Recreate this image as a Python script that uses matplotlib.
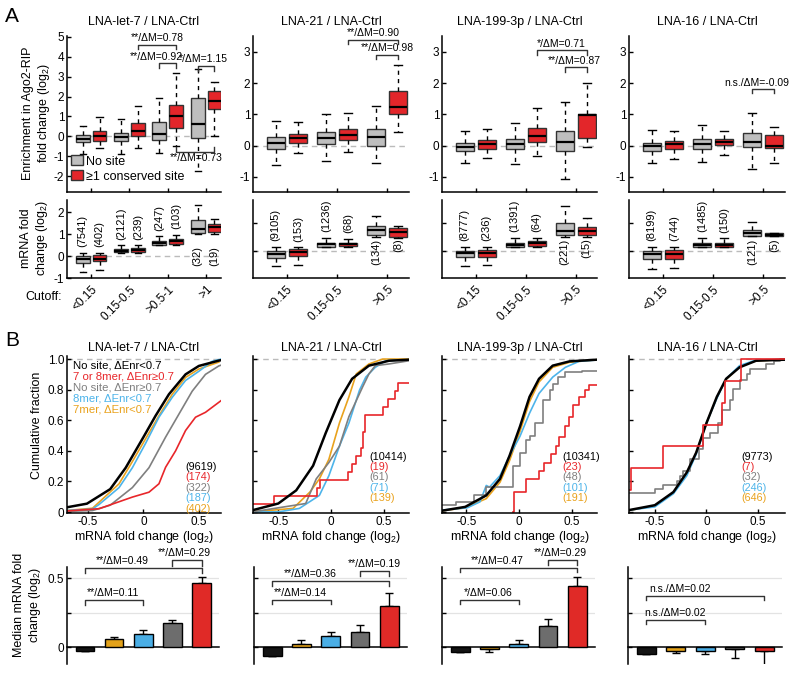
import matplotlib
matplotlib.use('Agg')
import matplotlib.pyplot as plt
from matplotlib.patches import Patch

plt.rcParams['font.family'] = ['Liberation Sans', 'DejaVu Sans']
plt.rcParams['mathtext.fontset'] = 'custom'
plt.rcParams['mathtext.rm'] = 'Liberation Sans'
plt.rcParams['axes.unicode_minus'] = False
plt.rcParams['font.size'] = 8.5

# ------------------------------------------------------------------ data
titles = ["LNA-let-7 / LNA-Ctrl", "LNA-21 / LNA-Ctrl", "LNA-199-3p / LNA-Ctrl", "LNA-16 / LNA-Ctrl"]
cutoffs_let7 = ["<0.15", "0.15-0.5", ">0.5-1", ">1"]
cutoffs_other = ["<0.15", "0.15-0.5", ">0.5"]

# box stats: (low whisker, q1, median, q3, high whisker)
enr_let7_nosite = [(-0.9, -0.3, -0.15, 0.05, 0.5), (-0.9, -0.23, -0.05, 0.15, 0.86),
                   (-0.85, -0.18, 0.12, 0.72, 1.92), (-1.75, -0.07, 0.64, 1.92, 3.38)]
enr_let7_site = [(-0.6, -0.23, 0.02, 0.27, 0.95), (-0.57, 0.04, 0.29, 0.67, 1.53),
                 (-0.47, 0.4, 1.04, 1.58, 3.2), (0.0, 1.36, 1.78, 2.29, 2.72)]
enr_21_nosite = [(-0.62, -0.1, 0.1, 0.27, 0.8), (-0.5, 0.05, 0.25, 0.44, 1.0), (-0.55, 0.0, 0.27, 0.52, 1.27)]
enr_21_site = [(-0.22, 0.1, 0.25, 0.37, 0.76), (-0.21, 0.18, 0.34, 0.55, 1.04), (0.44, 1.02, 1.23, 1.75, 2.57)]
enr_199_nosite = [(-0.56, -0.18, -0.05, 0.08, 0.47), (-0.58, -0.1, 0.05, 0.23, 0.74), (-1.08, -0.17, 0.11, 0.46, 1.39)]
enr_199_site = [(-0.4, -0.1, 0.04, 0.18, 0.52), (-0.33, 0.13, 0.3, 0.57, 1.2), (-0.03, 0.24, 0.98, 1.01, 2.0)]
enr_16_nosite = [(-0.55, -0.16, 0.0, 0.1, 0.5), (-0.51, -0.1, 0.05, 0.21, 0.65), (-0.73, -0.05, 0.11, 0.42, 1.04)]
enr_16_site = [(-0.44, -0.1, 0.04, 0.14, 0.48), (-0.31, 0.01, 0.13, 0.2, 0.48), (-0.56, -0.06, 0.0, 0.34, 0.59)]

mrna_let7_nosite = [(-0.72, -0.3, -0.15, 0.0, 0.15), (0.15, 0.17, 0.25, 0.32, 0.48),
                    (0.5, 0.51, 0.61, 0.69, 0.9), (1.02, 1.07, 1.21, 1.62, 2.3)]
mrna_let7_site = [(-0.63, -0.24, -0.13, 0.03, 0.15), (0.15, 0.18, 0.27, 0.35, 0.48),
                  (0.5, 0.57, 0.68, 0.78, 0.97), (1.02, 1.09, 1.32, 1.47, 1.68)]
mrna_21_nosite = [(-0.55, -0.24, -0.12, 0.0, 0.15), (0.13, 0.14, 0.24, 0.3, 0.48), (0.5, 0.57, 0.75, 0.88, 1.25)]
mrna_21_site = [(-0.49, -0.17, -0.04, 0.07, 0.13), (0.14, 0.18, 0.25, 0.3, 0.43), (0.48, 0.51, 0.69, 0.83, 0.9)]
mrna_199_nosite = [(-0.55, -0.22, -0.06, 0.02, 0.15), (0.14, 0.14, 0.23, 0.3, 0.47), (0.5, 0.57, 0.71, 1.0, 1.6)]
mrna_199_site = [(-0.49, -0.22, -0.06, 0.05, 0.15), (0.14, 0.17, 0.27, 0.36, 0.47), (0.5, 0.57, 0.72, 0.87, 1.17)]
mrna_16_nosite = [(-0.65, -0.27, -0.12, 0.02, 0.15), (0.13, 0.14, 0.23, 0.29, 0.47), (0.52, 0.54, 0.63, 0.75, 1.02)]
mrna_16_site = [(-0.62, -0.27, -0.12, 0.05, 0.15), (0.13, 0.14, 0.22, 0.29, 0.46), (0.52, 0.53, 0.59, 0.63, 0.66)]

n_let7_nosite = [7541, 2121, 247, 32]
n_let7_site = [402, 239, 103, 19]
n_21_nosite = [9105, 1236, 134]
n_21_site = [153, 68, 8]
n_199_nosite = [8777, 1391, 221]
n_199_site = [236, 64, 15]
n_16_nosite = [8199, 1485, 121]
n_16_site = [744, 150, 5]

# significance brackets on enrichment boxes: (x1, x2, y, leg end, label, text x, text y, va)
sig_enr_let7 = [(2.22, 3.22, 4.6, 4.38, "**/ΔM=0.78", 2.72, 4.68, 'bottom'),
                (2.78, 3.22, 3.68, 3.43, "**/ΔM=0.92", 2.70, 3.74, 'bottom'),
                (3.78, 4.22, 3.55, 3.3, "*/ΔM=1.15", 3.92, 3.62, 'bottom'),
                (3.22, 4.22, -0.77, -0.55, "**/ΔM=0.73", 3.75, -0.85, 'top')]
sig_enr_21 = [(2.22, 3.22, 3.39, 3.25, "**/ΔM=0.90", 2.73, 3.44, 'bottom'),
              (2.78, 3.22, 2.91, 2.77, "**/ΔM=0.98", 3.0, 2.96, 'bottom')]
sig_enr_199 = [(2.22, 3.22, 3.05, 2.9, "*/ΔM=0.71", 2.72, 3.1, 'bottom'),
               (2.78, 3.22, 2.51, 2.37, "**/ΔM=0.87", 2.98, 2.56, 'bottom')]
sig_enr_16 = [(2.78, 3.22, 1.81, 1.68, "n.s./ΔM=-0.09", 2.87, 1.86, 'bottom')]

# CDF curves (mRNA fold change, cumulative fraction)
cdf_labels = ["No site, ΔEnr<0.7", "7 or 8mer, ΔEnr≥0.7", "No site, ΔEnr≥0.7", "8mer, ΔEnr<0.7", "7mer, ΔEnr<0.7"]
let7_black_x = [-0.70, -0.51, -0.30, -0.16, 0.0, 0.11, 0.23, 0.38, 0.50, 0.68, 0.72]
let7_black_y = [0.03, 0.055, 0.15, 0.29, 0.49, 0.63, 0.77, 0.90, 0.955, 0.99, 0.995]
let7_red_x = [-0.70, -0.40, -0.10, 0.05, 0.14, 0.20, 0.29, 0.38, 0.47, 0.56, 0.70]
let7_red_y = [0.007, 0.022, 0.098, 0.13, 0.185, 0.293, 0.40, 0.533, 0.62, 0.652, 0.728]
let7_gray_x = [-0.70, -0.46, -0.30, -0.10, 0.05, 0.20, 0.32, 0.44, 0.56, 0.68, 0.72]
let7_gray_y = [0.005, 0.01, 0.045, 0.16, 0.29, 0.49, 0.64, 0.79, 0.90, 0.955, 0.965]
let7_blue_x = [-0.70, -0.46, -0.40, -0.22, -0.10, 0.02, 0.14, 0.26, 0.38, 0.50, 0.62, 0.70]
let7_blue_y = [0.01, 0.02, 0.05, 0.16, 0.29, 0.45, 0.62, 0.75, 0.86, 0.92, 0.985, 1.0]
let7_orange_x = [-0.70, -0.46, -0.40, -0.22, -0.10, 0.02, 0.14, 0.26, 0.38, 0.50, 0.68]
let7_orange_y = [0.01, 0.025, 0.065, 0.185, 0.33, 0.48, 0.63, 0.77, 0.88, 0.935, 0.98]

m21_black_x = [-0.74, -0.50, -0.33, -0.17, -0.05, 0.08, 0.20, 0.36, 0.55, 0.74]
m21_black_y = [0.013, 0.056, 0.142, 0.303, 0.517, 0.732, 0.871, 0.957, 0.989, 0.996]
m21_red_x = [-0.74, -0.54, -0.13, -0.10, 0.16, 0.20, 0.24, 0.28, 0.30, 0.32, 0.49, 0.54, 0.61, 0.64, 0.74]
m21_red_y = [0.053, 0.105, 0.158, 0.21, 0.263, 0.316, 0.368, 0.421, 0.526, 0.632, 0.684, 0.737, 0.789, 0.842, 0.842]
m21_gray_x = [-0.74, -0.24, -0.14, -0.02, 0.08, 0.17, 0.30, 0.36, 0.42, 0.55, 0.74]
m21_gray_y = [0.002, 0.056, 0.217, 0.324, 0.431, 0.624, 0.818, 0.903, 0.957, 0.968, 0.989]
m21_blue_x = [-0.74, -0.49, -0.30, -0.11, -0.02, 0.08, 0.17, 0.27, 0.33, 0.42, 0.52, 0.74]
m21_blue_y = [0.0, 0.002, 0.024, 0.109, 0.238, 0.431, 0.582, 0.796, 0.882, 0.946, 0.989, 0.996]
m21_orange_x = [-0.74, -0.36, -0.20, -0.11, -0.02, 0.08, 0.17, 0.24, 0.36, 0.49, 0.74]
m21_orange_y = [0.002, 0.024, 0.131, 0.217, 0.345, 0.582, 0.753, 0.903, 0.968, 1.0, 1.0]

m199_black_x = [-0.73, -0.51, -0.31, -0.18, -0.09, 0.01, 0.10, 0.19, 0.32, 0.48, 0.74]
m199_black_y = [0.009, 0.034, 0.109, 0.217, 0.367, 0.56, 0.753, 0.871, 0.957, 0.985, 0.996]
m199_red_x = [-0.06, -0.05, 0.07, 0.19, 0.24, 0.30, 0.35, 0.38, 0.44, 0.475, 0.51, 0.57, 0.63, 0.66, 0.74]
m199_red_y = [0.0, 0.13, 0.217, 0.27, 0.324, 0.378, 0.435, 0.49, 0.565, 0.62, 0.70, 0.75, 0.80, 0.83, 0.83]
m199_gray_x = [-0.73, -0.60, -0.43, -0.31, -0.06, 0.01, 0.07, 0.10, 0.15, 0.23, 0.29, 0.32, 0.37, 0.44, 0.60, 0.74]
m199_gray_y = [0.045, 0.067, 0.109, 0.163, 0.303, 0.388, 0.474, 0.496, 0.582, 0.732, 0.796, 0.839, 0.882, 0.914, 0.925, 0.925]
m199_blue_x = [-0.73, -0.49, -0.37, -0.31, -0.28, -0.18, -0.09, 0.01, 0.10, 0.19, 0.32, 0.44, 0.57, 0.74]
m199_blue_y = [0.013, 0.028, 0.067, 0.174, 0.163, 0.238, 0.367, 0.496, 0.646, 0.775, 0.882, 0.946, 0.985, 0.994]
m199_orange_x = [-0.73, -0.51, -0.31, -0.18, -0.09, 0.01, 0.10, 0.19, 0.32, 0.48, 0.74]
m199_orange_y = [0.009, 0.028, 0.088, 0.195, 0.335, 0.528, 0.721, 0.85, 0.946, 0.979, 0.996]

m16_black_x = [-0.75, -0.50, -0.32, -0.19, -0.10, 0.0, 0.10, 0.19, 0.32, 0.48, 0.76]
m16_black_y = [0.013, 0.045, 0.131, 0.26, 0.388, 0.582, 0.753, 0.871, 0.946, 0.989, 0.996]
m16_red_x = [-0.75, -0.73, -0.42, -0.03, 0.15, 0.18, 0.33, 0.76]
m16_red_y = [0.143, 0.286, 0.429, 0.571, 0.714, 0.857, 1.0, 1.0]
m16_gray_x = [-0.75, -0.50, -0.42, -0.29, -0.26, -0.23, -0.16, -0.07, -0.03, 0.03, 0.11, 0.15, 0.23,
              0.26, 0.32, 0.39, 0.42, 0.58, 0.65, 0.71, 0.76]
m16_gray_y = [0.127, 0.152, 0.174, 0.206, 0.238, 0.27, 0.345, 0.41, 0.485, 0.517, 0.582, 0.667, 0.732,
              0.807, 0.86, 0.903, 0.936, 0.968, 0.985, 1.0, 1.0]
m16_blue_x = [-0.75, -0.50, -0.32, -0.19, -0.10, 0.0, 0.10, 0.19, 0.32, 0.48, 0.76]
m16_blue_y = [0.013, 0.034, 0.12, 0.238, 0.378, 0.582, 0.742, 0.871, 0.957, 0.994, 0.996]
m16_orange_x = [-0.75, -0.50, -0.32, -0.19, -0.10, 0.0, 0.10, 0.19, 0.32, 0.48, 0.76]
m16_orange_y = [0.011, 0.041, 0.127, 0.256, 0.388, 0.582, 0.749, 0.867, 0.951, 0.989, 0.996]

cdf_n_let7 = [9619, 174, 322, 187, 402]
cdf_n_21 = [10414, 19, 61, 71, 139]
cdf_n_199 = [10341, 23, 48, 101, 191]
cdf_n_16 = [9773, 7, 32, 246, 646]

# median mRNA fold change bars: black, orange(7mer), blue(8mer), gray, red
bar_let7 = [-0.025, 0.061, 0.093, 0.178, 0.468]
err_let7 = [0.004, 0.017, 0.029, 0.017, 0.039]
bar_21 = [-0.06, 0.024, 0.085, 0.11, 0.30]
err_21 = [0.0, 0.026, 0.025, 0.05, 0.09]
bar_199 = [-0.037, -0.015, 0.024, 0.151, 0.44]
err_199 = [0.0, 0.019, 0.032, 0.054, 0.07]
bar_16 = [-0.05, -0.025, -0.025, -0.012, -0.025]
err_16 = [0.0, 0.015, 0.025, 0.068, 0.11]

# brackets on bars: (x1, x2, y, leg end, label, text x, text y)
sig_bar_let7 = [(1, 5, 0.573, 0.537, "**/ΔM=0.49", 2.28, 0.59), (4, 5, 0.63, 0.59, "**/ΔM=0.29", 4.42, 0.645),
                (1, 3, 0.341, 0.305, "**/ΔM=0.11", 1.97, 0.357)]
sig_bar_21 = [(1, 5, 0.48, 0.444, "**/ΔM=0.36", 2.3, 0.497), (4, 5, 0.549, 0.517, "**/ΔM=0.19", 4.48, 0.564),
              (1, 3, 0.341, 0.31, "**/ΔM=0.14", 1.96, 0.357)]
sig_bar_199 = [(1, 5, 0.573, 0.541, "**/ΔM=0.47", 2.25, 0.59), (4, 5, 0.63, 0.596, "**/ΔM=0.29", 4.41, 0.645),
               (1, 3, 0.341, 0.31, "*/ΔM=0.06", 1.97, 0.357)]
sig_bar_16 = [(1, 5, 0.371, 0.341, "n.s./ΔM=0.02", 2.14, 0.387), (1, 3, 0.195, 0.166, "n.s./ΔM=0.02", 1.97, 0.211)]

# ------------------------------------------------------------------ style
GRAYBOX = '#bebebe'
REDBOX = '#e3262a'
C_BLACK, C_RED, C_GRAY, C_BLUE, C_ORANGE = '#000000', '#e8262a', '#7f7f7f', '#4db4ea', '#e9a21d'
BAR_COLORS = ['#141414', '#e3a21a', '#4aaee5', '#6d6d6d', '#e02a27']

W, H = 796, 675
fig = plt.figure(figsize=(W / 100, H / 100), dpi=100)


def add_ax(l, t, r, b):
    ax = fig.add_axes([l / W, 1 - b / H, (r - l) / W, (b - t) / H])
    for s in ('top', 'right'):
        ax.spines[s].set_visible(False)
    for s in ('left', 'bottom'):
        ax.spines[s].set_linewidth(1.1)
    ax.tick_params(direction='in', length=3, width=1, labelsize=8.5, pad=2)
    return ax


def fx(px):
    return px / W


def fy(py):
    return 1 - py / H


def draw_boxes(ax, ns, st, n_ns, n_st, ypos_below, count_labels=True):
    k = len(ns)
    pos_ns = [i + 1 - 0.22 for i in range(k)]
    pos_st = [i + 1 + 0.22 for i in range(k)]
    for data, pos, col in ((ns, pos_ns, GRAYBOX), (st, pos_st, REDBOX)):
        stats = [dict(whislo=a, q1=b, med=c, q3=d, whishi=e, fliers=[]) for a, b, c, d, e in data]
        ax.bxp(stats, positions=pos, widths=0.36, patch_artist=True, showfliers=False,
               boxprops=dict(facecolor=col, edgecolor='#333333', linewidth=1.0),
               whiskerprops=dict(color='black', linewidth=1.0, linestyle=(0, (3, 3))),
               capprops=dict(color='black', linewidth=1.0),
               medianprops=dict(color='black', linewidth=1.6), capwidths=0.16,
               manage_ticks=False)
    if count_labels:
        for i in range(k):
            for data, pos, nn in ((ns, pos_ns, n_ns), (st, pos_st, n_st)):
                if i < k - 1:
                    ax.annotate(f"({nn[i]})", xy=(pos[i], data[i][4]), xytext=(0, 4),
                                textcoords='offset points', rotation=90, ha='center', va='bottom',
                                fontsize=8)
                else:
                    ax.text(pos[i], ypos_below, f"({nn[i]})", rotation=90, ha='center', va='top',
                            fontsize=8)


def bracket(ax, x1, x2, y, yleg, label, tx, ty, va='bottom', fs=7.5):
    ax.plot([x1, x1, x2, x2], [yleg, y, y, yleg], color='#333333', lw=1.0, clip_on=False, zorder=5)
    ax.text(tx, ty, label, ha='center', va=va, fontsize=fs, clip_on=False)


# ------------------------------------------------------------------ layout
cols_box = [(67, 221), (253, 409), (442, 597), (629, 785)]
cols_bar = [(67, 219), (254, 407), (442, 595), (628, 782)]
ROW_ENR = (36, 192)
ROW_MRNA = (200, 278)
ROW_CDF = (356, 513)
ROW_BAR = (567, 664)

enr_sets = [(enr_let7_nosite, enr_let7_site, sig_enr_let7), (enr_21_nosite, enr_21_site, sig_enr_21),
            (enr_199_nosite, enr_199_site, sig_enr_199), (enr_16_nosite, enr_16_site, sig_enr_16)]
mrna_sets = [(mrna_let7_nosite, mrna_let7_site, n_let7_nosite, n_let7_site, cutoffs_let7),
             (mrna_21_nosite, mrna_21_site, n_21_nosite, n_21_site, cutoffs_other),
             (mrna_199_nosite, mrna_199_site, n_199_nosite, n_199_site, cutoffs_other),
             (mrna_16_nosite, mrna_16_site, n_16_nosite, n_16_site, cutoffs_other)]

for p in range(4):
    l, r = cols_box[p]
    ns, st, sig = enr_sets[p]
    k = len(ns)
    xl = (0.37, 4.39) if k == 4 else (0.33, 3.43)
    # enrichment row
    ax = add_ax(l, ROW_ENR[0], r, ROW_ENR[1])
    ax.axhline(0, color='#bbbbbb', lw=1.0, ls=(0, (4, 3)), zorder=0)
    draw_boxes(ax, ns, st, None, None, 0, count_labels=False)
    ax.set_xlim(*xl)
    ax.set_xticks(range(1, k + 1))
    ax.set_xticklabels([])
    if p == 0:
        ax.set_ylim(-2.8, 5.05)
        ax.set_yticks(range(-2, 6))
        ax.legend(handles=[Patch(facecolor=GRAYBOX, edgecolor='#333333', label='No site'),
                           Patch(facecolor=REDBOX, edgecolor='#333333', label='≥1 conserved site')],
                  loc='upper left', bbox_to_anchor=(0.02, 0.245), frameon=False, fontsize=9,
                  handlelength=0.9, handleheight=0.9, handletextpad=0.25, labelspacing=0.2,
                  borderaxespad=0, borderpad=0.1)
    else:
        ax.set_ylim(-1.48, 3.51)
        ax.set_yticks(range(-1, 4))
    for s in sig:
        bracket(ax, *s)
    fig.text(fx((l + r) / 2), fy(22), titles[p], ha='center', va='center', fontsize=9)

    # mRNA row
    mns, mst, nns, nst, cuts = mrna_sets[p]
    ax = add_ax(l, ROW_MRNA[0], r, ROW_MRNA[1])
    ax.axhline(0, color='#bbbbbb', lw=1.0, ls=(0, (4, 3)), zorder=0)
    draw_boxes(ax, mns, mst, nns, nst, 0.45)
    ax.set_xlim(*xl)
    ax.set_xticks(range(1, k + 1))
    ax.set_xticklabels(cuts, rotation=45, ha='right', rotation_mode='anchor', fontsize=8.5)
    ax.tick_params(axis='x', pad=4)
    if p == 0:
        ax.set_ylim(-1, 2.55)
        ax.set_yticks([-1, 0, 1, 2])
    else:
        ax.set_ylim(-0.96, 1.82)
        ax.set_yticks([0, 1])
        ax.set_yticklabels([])

fig.text(fx(25), fy(297), "Cutoff:", ha='left', va='center', fontsize=9)

# ------------------------------------------------------------------ CDF row
cdf_sets = [
    [(let7_orange_x, let7_orange_y, C_ORANGE, False), (let7_blue_x, let7_blue_y, C_BLUE, False),
     (let7_gray_x, let7_gray_y, C_GRAY, False), (let7_red_x, let7_red_y, C_RED, False),
     (let7_black_x, let7_black_y, C_BLACK, False)],
    [(m21_orange_x, m21_orange_y, C_ORANGE, False), (m21_blue_x, m21_blue_y, C_BLUE, False),
     (m21_gray_x, m21_gray_y, C_GRAY, False), (m21_red_x, m21_red_y, C_RED, True),
     (m21_black_x, m21_black_y, C_BLACK, False)],
    [(m199_orange_x, m199_orange_y, C_ORANGE, False), (m199_blue_x, m199_blue_y, C_BLUE, False),
     (m199_gray_x, m199_gray_y, C_GRAY, True), (m199_red_x, m199_red_y, C_RED, True),
     (m199_black_x, m199_black_y, C_BLACK, False)],
    [(m16_orange_x, m16_orange_y, C_ORANGE, False), (m16_blue_x, m16_blue_y, C_BLUE, False),
     (m16_gray_x, m16_gray_y, C_GRAY, True), (m16_black_x, m16_black_y, C_BLACK, False),
     (m16_red_x, m16_red_y, C_RED, True)],
]
cdf_counts = [cdf_n_let7, cdf_n_21, cdf_n_199, cdf_n_16]
cdf_xlims = [(-0.69, 0.70), (-0.74, 0.74), (-0.73, 0.74), (-0.75, 0.76)]
count_x = [0.38, 0.36, 0.41, 0.34]
count_top = [0.295, 0.363, 0.363, 0.363]
count_step = 0.068
count_colors = [C_BLACK, C_RED, C_GRAY, C_BLUE, C_ORANGE]

for p in range(4):
    l, r = cols_box[p]
    ax = add_ax(l, ROW_CDF[0], r, ROW_CDF[1])
    ax.axhline(1.0, color='#bbbbbb', lw=1.0, ls=(0, (4, 3)), zorder=0)
    for xs, ys, col, step in cdf_sets[p]:
        lw = 1.8 if col == C_BLACK else 1.2
        ax.plot(xs, ys, color=col, lw=lw, drawstyle='steps-post' if step else 'default')
    ax.set_xlim(*cdf_xlims[p])
    ax.set_ylim(-0.006, 1.02)
    ax.set_xticks([-0.5, 0, 0.5])
    ax.set_xticklabels(['-0.5', '0', '0.5'])
    ax.set_yticks([0, 0.2, 0.4, 0.6, 0.8, 1.0])
    if p == 0:
        ax.set_yticklabels(['0', '0.2', '0.4', '0.6', '0.8', '1.0'])
        for i, (lab, col) in enumerate(zip(cdf_labels, count_colors)):
            ax.text(-0.635, 0.955 - i * 0.071, lab, color=col, fontsize=8.2, ha='left', va='center')
    else:
        ax.set_yticklabels([])
    for i, (n, col) in enumerate(zip(cdf_counts[p], count_colors)):
        ax.text(count_x[p], count_top[p] - i * count_step, f"({n})", color=col, fontsize=7.8,
                ha='left', va='center')
    ax.set_xlabel("mRNA fold change (log$_2$)", fontsize=9, labelpad=1)
    fig.text(fx((l + r) / 2), fy(348), titles[p], ha='center', va='center', fontsize=9)

# ------------------------------------------------------------------ bar row
bar_sets = [(bar_let7, err_let7, sig_bar_let7), (bar_21, err_21, sig_bar_21),
            (bar_199, err_199, sig_bar_199), (bar_16, err_16, sig_bar_16)]
for p in range(4):
    l, r = cols_bar[p]
    vals, errs, sig = bar_sets[p]
    ax = add_ax(l, ROW_BAR[0], r, ROW_BAR[1])
    pos = list(range(1, 6))
    ax.axhline(0.25, color='#e3e3e3', lw=0.9, zorder=0)
    ax.axhline(0.5, color='#e3e3e3', lw=0.9, zorder=0)
    lower = [e if v < 0 else 0 for v, e in zip(vals, errs)]
    upper = [e if v >= 0 else 0 for v, e in zip(vals, errs)]
    ax.errorbar(pos, vals, yerr=[lower, upper], fmt='none', ecolor='black', elinewidth=1.0,
                capsize=3, capthick=1.0, zorder=2)
    ax.bar(pos, vals, width=0.64, color=BAR_COLORS, edgecolor='black', linewidth=1.0, zorder=3)
    ax.spines['bottom'].set_position(('data', 0))
    ax.set_xticks([])
    ax.set_xlim(0.38, 5.6)
    ax.set_ylim(-0.12, 0.58)
    ax.set_yticks([0, 0.25, 0.5])
    if p == 0:
        ax.set_yticklabels(['0', '', '0.5'])
    else:
        ax.set_yticklabels([])
    for s in sig:
        bracket(ax, *s)

# ------------------------------------------------------------------ labels
fig.text(fx(37), fy(113), "Enrichment in Ago2-RIP\nfold change (log$_2$)", rotation=90,
         ha='center', va='center', fontsize=9, multialignment='center')
fig.text(fx(35), fy(238), "mRNA fold\nchange (log$_2$)", rotation=90,
         ha='center', va='center', fontsize=9, multialignment='center')
fig.text(fx(37), fy(425), "Cumulative fraction", rotation=90, ha='center', va='center', fontsize=9)
fig.text(fx(28), fy(605), "Median mRNA fold\nchange (log$_2$)", rotation=90,
         ha='center', va='center', fontsize=9, multialignment='center')
fig.text(fx(5), fy(17), "A", fontsize=15, ha='left', va='center')
fig.text(fx(5), fy(341), "B", fontsize=15, ha='left', va='center')

fig.savefig('out.png', dpi=100)
